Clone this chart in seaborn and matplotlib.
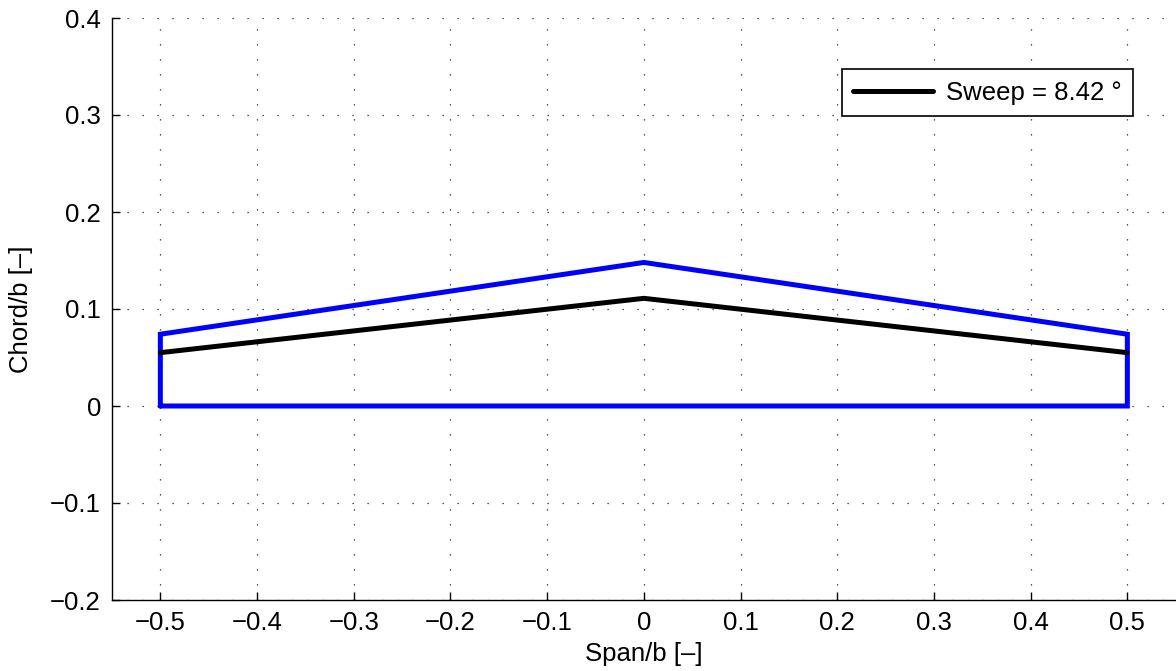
import numpy as np
import pandas as pd
import matplotlib
matplotlib.use("Agg")
import matplotlib.pyplot as plt
import seaborn as sns

# Planform outline (blue)
outline_span = [-0.5, -0.5, 0.0, 0.5, 0.5, -0.5]
outline_chord = [0.0, 0.074, 0.148, 0.074, 0.0, 0.0]
# Sweep line (black)
sweep_span = [-0.5, 0.0, 0.5]
sweep_chord = [0.055, 0.111, 0.055]
sweep_label = "Sweep = 8.42 °"

xticks = [-0.5, -0.4, -0.3, -0.2, -0.1, 0, 0.1, 0.2, 0.3, 0.4, 0.5]
yticks = [-0.2, -0.1, 0, 0.1, 0.2, 0.3, 0.4]

sns.set_theme(style="white")
plt.rcParams['font.family'] = ['Liberation Sans', 'DejaVu Sans']
plt.rcParams['axes.unicode_minus'] = True
plt.rcParams['text.color'] = 'black'
plt.rcParams['axes.labelcolor'] = 'black'

FS = 18.5

fig = plt.figure(figsize=(11.76, 6.71), dpi=100)
ax = fig.add_axes([112/1176, 71/671, 1063.7/1176, 582/671])

df_out = pd.DataFrame({"x": outline_span, "y": outline_chord})
df_sw = pd.DataFrame({"x": sweep_span, "y": sweep_chord})

sns.lineplot(data=df_out, x="x", y="y", sort=False, estimator=None, color="#0000ff",
             linewidth=3.6, ax=ax, legend=False, solid_joinstyle="miter")
sns.lineplot(data=df_sw, x="x", y="y", sort=False, estimator=None, color="black",
             linewidth=3.6, ax=ax, label=sweep_label)

ax.set_xlim(-0.55, 0.55)
ax.set_ylim(-0.2, 0.4)
ax.set_xticks(xticks)
ax.set_yticks(yticks)
ax.set_xticklabels([("%g" % v).replace("-", "\u2212") for v in xticks])
ax.set_yticklabels([("%g" % v).replace("-", "\u2212") for v in yticks])
ax.tick_params(direction="in", length=6, width=1, labelsize=FS, colors="black",
               bottom=True, left=True, pad=8)
ax.grid(True, color="#222222", linestyle=(0, (1, 11)), linewidth=0.9)
for s in ["top", "right"]:
    ax.spines[s].set_visible(False)
for s in ["left", "bottom"]:
    ax.spines[s].set_color("black")
    ax.spines[s].set_linewidth(1)

ax.set_xlabel("Span/b [\u2013]", fontsize=FS, labelpad=5, color="black")
ax.set_ylabel("Chord/b [\u2013]", fontsize=FS, labelpad=12, color="black")

leg = ax.legend(loc="upper right", bbox_to_anchor=(0.960, 0.912), fontsize=FS,
                frameon=True, fancybox=False, edgecolor="black", framealpha=1,
                handlelength=3.1, borderpad=0.45, handletextpad=0.5, borderaxespad=0)
leg.get_frame().set_linewidth(1.2)
for t in leg.get_texts():
    t.set_color("black")

fig.savefig("out.png", dpi=100)
